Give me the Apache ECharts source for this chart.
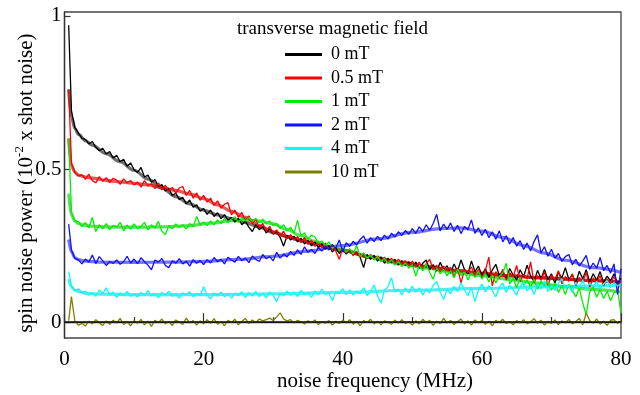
<!DOCTYPE html>
<html><head><meta charset="utf-8">
<script src="https://cdn.jsdelivr.net/npm/echarts@6/dist/echarts.min.js"></script>
<style>html,body{margin:0;padding:0;background:#fff}#c{width:640px;height:395px}</style>
</head><body><div id="c"></div>
<script>
const FONT = '"Liberation Serif", "Times New Roman", serif';

// noise frequency samples (MHz)
const freq = [0.6,1,1.5,2,2.5,3,3.5,4,4.5,5,5.5,6,6.5,7,7.5,8,8.5,9,9.5,10,
10.5,11,11.5,12,12.5,13,13.5,14,14.5,15,15.5,16,16.5,17,17.5,18,18.5,19,19.5,20,
20.5,21,21.5,22,22.5,23,23.5,24,24.5,25,25.5,26,26.5,27,27.5,28,28.5,29,29.5,30,
30.5,31,31.5,32,32.5,33,33.5,34,34.5,35,35.5,36,36.5,37,37.5,38,38.5,39,39.5,40,
40.5,41,41.5,42,42.5,43,43.5,44,44.5,45,45.5,46,46.5,47,47.5,48,48.5,49,49.5,50,
50.5,51,51.5,52,52.5,53,53.5,54,54.5,55,55.5,56,56.5,57,57.5,58,58.5,59,59.5,60,
60.5,61,61.5,62,62.5,63,63.5,64,64.5,65,65.5,66,66.5,67,67.5,68,68.5,69,69.5,70,
70.5,71,71.5,72,72.5,73,73.5,74,74.5,75,75.5,76,76.5,77,77.5,78,78.5,79,79.5,80];

const fields = ['0 mT','0.5 mT','1 mT','2 mT','4 mT','10 mT'];
const colors = ['#000000','#ff0000','#00f000','#1010ff','#00ffff','#808000'];
const fitColors = ['#202020','#d00000','#00d000','#2a2aff','#00e0e0'];
const xTickLabels = [0,20,40,60,80];
const yTickLabels = [0,0.5,1];

// measured spectra
const data0 = [0.97,0.69,0.635,0.618,0.600,0.597,0.582,0.590,0.571,0.560,0.568,0.549,0.557,0.536,0.545,0.524,0.532,0.509,0.520,0.498,
0.489,0.505,0.474,0.48,0.457,0.466,0.443,0.449,0.428,0.436,0.414,0.421,0.40,0.408,0.386,0.399,0.375,0.383,0.362,0.371,
0.352,0.366,0.345,0.357,0.338,0.351,0.333,0.342,0.327,0.339,0.318,0.330,0.31,0.296,0.318,0.302,0.312,0.291,0.305,0.287,
0.296,0.277,0.248,0.283,0.268,0.281,0.262,0.274,0.255,0.267,0.249,0.262,0.243,0.256,0.238,0.25,0.229,0.243,0.224,0.238,
0.222,0.236,0.218,0.229,0.212,0.178,0.221,0.205,0.218,0.199,0.213,0.192,0.209,0.194,0.205,0.186,0.201,0.184,0.197,0.181,
0.196,0.176,0.192,0.203,0.171,0.188,0.166,0.195,0.172,0.184,0.16,0.19,0.167,0.203,0.172,0.158,0.2,0.165,0.183,0.152,
0.175,0.146,0.17,0.189,0.152,0.166,0.14,0.175,0.154,0.137,0.171,0.148,0.186,0.151,0.133,0.169,0.142,0.172,0.138,0.158,
0.127,0.163,0.144,0.178,0.139,0.155,0.128,0.166,0.142,0.171,0.131,0.158,0.137,0.165,0.129,0.15,0.135,0.158,0.126,0.143];

const data05 = [0.76,0.52,0.488,0.478,0.481,0.466,0.483,0.462,0.455,0.475,0.46,0.472,0.456,0.47,0.464,0.45,0.468,0.455,0.462,0.448,
0.458,0.441,0.462,0.445,0.452,0.436,0.455,0.432,0.447,0.428,0.44,0.421,0.438,0.443,0.414,0.43,0.405,0.422,0.398,0.414,
0.392,0.405,0.381,0.396,0.372,0.385,0.39,0.35,0.366,0.342,0.358,0.333,0.347,0.321,0.336,0.308,0.322,0.297,0.313,0.288,
0.301,0.281,0.297,0.272,0.286,0.268,0.279,0.259,0.276,0.254,0.268,0.247,0.262,0.243,0.258,0.236,0.252,0.232,0.205,0.241,
0.226,0.238,0.219,0.231,0.213,0.225,0.207,0.221,0.204,0.216,0.199,0.212,0.193,0.209,0.19,0.206,0.188,0.201,0.183,0.199,
0.18,0.196,0.174,0.19,0.205,0.171,0.186,0.164,0.183,0.168,0.179,0.148,0.176,0.128,0.17,0.162,0.18,0.151,0.172,0.145,
0.168,0.212,0.118,0.165,0.142,0.173,0.138,0.161,0.148,0.185,0.132,0.156,0.141,0.197,0.128,0.152,0.137,0.164,0.12,0.153,
0.139,0.168,0.125,0.149,0.133,0.158,0.119,0.146,0.131,0.162,0.114,0.144,0.129,0.152,0.118,0.141,0.126,0.149,0.121,0.135];

const data1 = [0.60,0.36,0.33,0.328,0.312,0.325,0.308,0.342,0.296,0.318,0.305,0.322,0.302,0.316,0.31,0.326,0.298,0.317,0.304,0.321,
0.305,0.312,0.326,0.301,0.318,0.307,0.329,0.297,0.285,0.316,0.305,0.321,0.309,0.318,0.304,0.322,0.312,0.345,0.318,0.327,
0.315,0.33,0.318,0.334,0.322,0.338,0.325,0.336,0.344,0.326,0.34,0.33,0.342,0.328,0.339,0.325,0.336,0.32,0.331,0.315,
0.322,0.305,0.318,0.298,0.31,0.29,0.333,0.281,0.292,0.271,0.284,0.278,0.258,0.265,0.248,0.262,0.241,0.252,0.233,0.244,
0.228,0.24,0.222,0.25,0.214,0.226,0.209,0.219,0.203,0.214,0.197,0.208,0.19,0.203,0.186,0.198,0.181,0.193,0.176,0.188,
0.15,0.185,0.168,0.19,0.162,0.14,0.177,0.158,0.172,0.151,0.168,0.145,0.173,0.152,0.164,0.138,0.161,0.146,0.166,0.14,
0.158,0.131,0.152,0.128,0.149,0.16,0.192,0.125,0.143,0.112,0.146,0.121,0.138,0.115,0.141,0.107,0.135,0.118,0.13,0.104,
0.128,0.097,0.119,0.09,0.124,0.104,0.083,0.112,0.062,0.024,0.098,0.115,0.081,0.106,0.077,0.101,0.07,0.095,0.104,0.03];

const data2 = [0.32,0.235,0.208,0.203,0.19,0.206,0.196,0.219,0.191,0.214,0.2,0.185,0.198,0.192,0.203,0.189,0.197,0.215,0.193,0.206,
0.191,0.21,0.197,0.186,0.171,0.203,0.196,0.208,0.185,0.178,0.2,0.192,0.207,0.19,0.199,0.183,0.204,0.192,0.201,0.188,
0.204,0.193,0.211,0.197,0.205,0.19,0.212,0.203,0.196,0.215,0.2,0.209,0.194,0.216,0.205,0.198,0.221,0.207,0.214,0.2,
0.228,0.209,0.222,0.213,0.231,0.218,0.236,0.221,0.246,0.228,0.237,0.224,0.243,0.232,0.249,0.236,0.254,0.241,0.268,0.229,
0.259,0.247,0.264,0.252,0.27,0.281,0.258,0.276,0.263,0.28,0.266,0.284,0.271,0.29,0.278,0.295,0.283,0.299,0.287,0.305,
0.29,0.311,0.296,0.318,0.3,0.322,0.352,0.298,0.32,0.303,0.324,0.296,0.316,0.289,0.312,0.302,0.334,0.29,0.308,0.283,
0.303,0.276,0.295,0.271,0.298,0.262,0.282,0.255,0.276,0.248,0.266,0.237,0.258,0.232,0.263,0.285,0.226,0.246,0.215,0.238,
0.209,0.224,0.198,0.214,0.221,0.187,0.205,0.183,0.199,0.218,0.172,0.193,0.176,0.211,0.168,0.185,0.16,0.19,0.09,0.175];

const data4 = [0.165,0.118,0.103,0.109,0.094,0.101,0.088,0.097,0.084,0.105,0.092,0.112,0.089,0.098,0.081,0.095,0.086,0.1,0.084,0.093,
0.082,0.097,0.088,0.103,0.085,0.093,0.079,0.097,0.087,0.101,0.084,0.092,0.078,0.096,0.089,0.099,0.083,0.094,0.087,0.116,
0.088,0.076,0.095,0.084,0.098,0.083,0.092,0.078,0.094,0.086,0.099,0.081,0.096,0.085,0.1,0.083,0.094,0.079,0.098,0.088,
0.067,0.094,0.086,0.101,0.087,0.098,0.083,0.104,0.09,0.097,0.081,0.102,0.089,0.108,0.09,0.096,0.07,0.1,0.093,0.109,
0.09,0.105,0.088,0.101,0.093,0.112,0.087,0.099,0.121,0.086,0.062,0.103,0.115,0.145,0.098,0.108,0.09,0.112,0.095,0.118,
0.097,0.112,0.089,0.108,0.095,0.12,0.133,0.098,0.074,0.108,0.093,0.117,0.1,0.128,0.104,0.086,0.112,0.067,0.105,0.124,
0.098,0.119,0.103,0.082,0.114,0.128,0.097,0.121,0.105,0.088,0.117,0.131,0.102,0.116,0.09,0.124,0.108,0.135,0.1,0.118,
0.104,0.127,0.142,0.109,0.121,0.097,0.13,0.112,0.138,0.104,0.126,0.115,0.133,0.108,0.124,0.136,0.113,0.129,0.118,0.125];

const data10 = [0.005,0.083,0.002,-0.01,-0.004,-0.013,0.003,-0.006,0.008,-0.002,-0.011,0.004,-0.007,0.006,-0.003,0.012,-0.008,0.001,-0.012,0.005,
-0.004,0.009,-0.009,0.003,-0.014,0.006,-0.002,0.01,-0.006,0.002,-0.011,0.007,0.0,-0.008,0.013,-0.003,0.005,-0.01,0.004,-0.006,
0.008,-0.004,0.011,-0.007,0.002,-0.012,0.006,-0.001,0.009,-0.009,0.003,0.012,-0.005,0.007,-0.002,0.01,0.004,0.008,0.013,0.005,
0.017,0.03,0.01,0.004,0.008,-0.003,0.006,0.001,-0.006,0.004,-0.002,0.007,-0.008,0.002,-0.004,0.005,-0.01,0.003,-0.005,0.006,
-0.003,0.008,-0.007,0.002,-0.012,0.005,-0.001,0.009,-0.006,0.003,-0.009,0.004,0.0,-0.007,0.006,-0.003,0.008,-0.005,0.002,-0.01,
0.004,-0.006,0.009,-0.002,0.006,-0.011,0.003,-0.005,0.012,-0.003,0.005,-0.008,0.002,0.01,-0.006,0.004,-0.01,0.007,-0.002,0.005,
-0.007,0.003,-0.012,0.006,-0.002,0.009,-0.005,0.002,-0.009,0.005,-0.003,0.008,-0.006,0.001,0.011,-0.004,0.006,-0.01,0.003,-0.005,
0.007,-0.008,0.004,-0.003,0.009,-0.006,0.002,0.012,-0.009,0.03,0.005,-0.004,0.01,-0.007,0.003,-0.011,0.006,0.008,-0.005,0.004];

// fitted curves (knots)
const fitF0 = [0.6,1,1.5,2,3,4,6,8,10,12,14,16,18,20,22,24,26,28,30,32,34,36,38,40,44,48,52,56,60,64,68,72,76,80];
const fitV0 = [0.76,0.67,0.632,0.613,0.593,0.578,0.55,0.524,0.496,0.467,0.438,0.41,0.386,0.366,0.35,0.338,0.325,0.31,0.293,0.279,0.266,0.254,0.243,0.233,0.212,0.195,0.181,0.168,0.158,0.151,0.145,0.14,0.135,0.131];
const fitF05 = [0.6,1,1.5,2,3,4,6,8,10,12,14,16,18,20,22,24,26,28,30,32,34,36,38,40,44,48,52,56,60,64,68,72,76,80];
const fitV05 = [0.6,0.51,0.49,0.48,0.474,0.47,0.463,0.458,0.453,0.448,0.44,0.43,0.418,0.403,0.383,0.362,0.342,0.315,0.295,0.28,0.268,0.255,0.244,0.234,0.213,0.197,0.182,0.17,0.16,0.152,0.145,0.14,0.135,0.131];
const fitF1 = [0.6,1,1.5,2,3,4,6,10,14,18,21,24,26,28,30,32,34,36,38,40,44,48,52,56,60,64,68,72,76,80];
const fitV1 = [0.42,0.35,0.33,0.322,0.316,0.313,0.311,0.31,0.311,0.315,0.323,0.331,0.333,0.33,0.321,0.302,0.282,0.264,0.248,0.235,0.212,0.192,0.176,0.163,0.152,0.139,0.127,0.117,0.107,0.098];
const fitF2 = [0.6,1,1.5,2,3,5,10,15,20,25,30,35,40,45,50,54,57,60,63,66,69,72,76,80];
const fitV2 = [0.27,0.23,0.21,0.204,0.199,0.196,0.195,0.196,0.198,0.205,0.215,0.232,0.25,0.272,0.293,0.305,0.308,0.297,0.277,0.25,0.225,0.202,0.178,0.163];
const fitF4 = [0.6,1,1.5,2,3,5,10,20,30,40,50,60,70,80];
const fitV4 = [0.14,0.115,0.104,0.1,0.094,0.091,0.09,0.09,0.092,0.097,0.104,0.11,0.116,0.121];

const dataSets = [data0, data05, data1, data2, data4, data10];
const fits = [[fitF0, fitV0],[fitF05, fitV05],[fitF1, fitV1],[fitF2, fitV2],[fitF4, fitV4]];
const fitOrder = [0, 2, 1, 3, 4];

const series = [];
fitOrder.forEach(k => {
  const [fx, fv] = fits[k];
  series.push({
    type: 'line', name: 'fit ' + fields[k], silent: true,
    data: fx.map((f, i) => [f, fv[i]]),
    showSymbol: false, smooth: 0.35, smoothMonotone: 'x',
    lineStyle: { color: fitColors[k], width: 3.2, opacity: 0.65 },
    z: 2
  });
});
dataSets.forEach((d, k) => {
  const s = {
    type: 'line', name: fields[k],
    data: freq.map((f, i) => [f, d[i]]),
    showSymbol: false,
    lineStyle: { color: colors[k], width: 1.3 },
    itemStyle: { color: colors[k] },
    z: 3
  };
  if (k === 5) {
    s.markLine = {
      silent: true, symbol: 'none', label: { show: false },
      lineStyle: { color: '#111', width: 1.5, type: 'solid' },
      data: [{ yAxis: 0 }]
    };
  }
  series.push(s);
});

const chart = echarts.init(document.getElementById('c'), null, { renderer: 'canvas' });
chart.setOption({
  animation: false,
  backgroundColor: '#fff',
  grid: { left: 64.5, right: 19, top: 12, bottom: 57, show: true, borderColor: '#444', borderWidth: 1.3, backgroundColor: 'transparent' },
  xAxis: {
    type: 'value', min: 0, max: 80, interval: 20,
    axisLine: { show: true, lineStyle: { color: '#333', width: 1.3 } },
    axisTick: { show: true, inside: true, length: 9, lineStyle: { color: '#333', width: 1.2 } },
    minorTick: { show: true, splitNumber: 2, length: 5, lineStyle: { color: '#333', width: 1.2 } },
    axisLabel: { fontFamily: FONT, fontSize: 21, color: '#000', margin: 11,
      customValues: xTickLabels },
    splitLine: { show: false }, minorSplitLine: { show: false }
  },
  yAxis: {
    type: 'value', min: -0.052, max: 1.013,
    axisLine: { show: true, lineStyle: { color: '#333', width: 1.3 } },
    axisTick: { show: true, inside: true, length: 6, customValues: yTickLabels, lineStyle: { color: '#333', width: 1.2 } },
    axisLabel: { fontFamily: FONT, fontSize: 21, color: '#000', margin: 3, customValues: yTickLabels },
    splitLine: { show: false }
  },
  legend: {
    orient: 'vertical', left: 285, top: 45.5, padding: 0,
    itemWidth: 37, itemHeight: 3, itemGap: 5.5, icon: 'rect',
    selectedMode: false,
    textStyle: { fontFamily: FONT, fontSize: 18, color: '#000', lineHeight: 18, padding: [0, 0, 0, 4] },
    data: fields
  },
  graphic: [
    { type: 'text', x: 237, y: 29, silent: true,
      style: { text: 'transverse magnetic field', fontFamily: FONT, fontSize: 19, fill: '#000', align: 'left', verticalAlign: 'middle' } },
    { type: 'text', x: 375, y: 381, silent: true,
      style: { text: 'noise frequency (MHz)', fontFamily: FONT, fontSize: 21, fill: '#000', align: 'center', verticalAlign: 'middle' } },
    { type: 'text', x: 26, y: 183, rotation: Math.PI / 2, silent: true,
      style: { text: 'spin noise power (10{s|-2} x shot noise)', fontFamily: FONT, fontSize: 21, fill: '#000',
        align: 'center', verticalAlign: 'middle', lineHeight: 26,
        rich: { s: { fontFamily: FONT, fontSize: 13, fill: '#000', verticalAlign: 'top', lineHeight: 13 } } } }
  ],
  series: series
});
</script></body></html>
